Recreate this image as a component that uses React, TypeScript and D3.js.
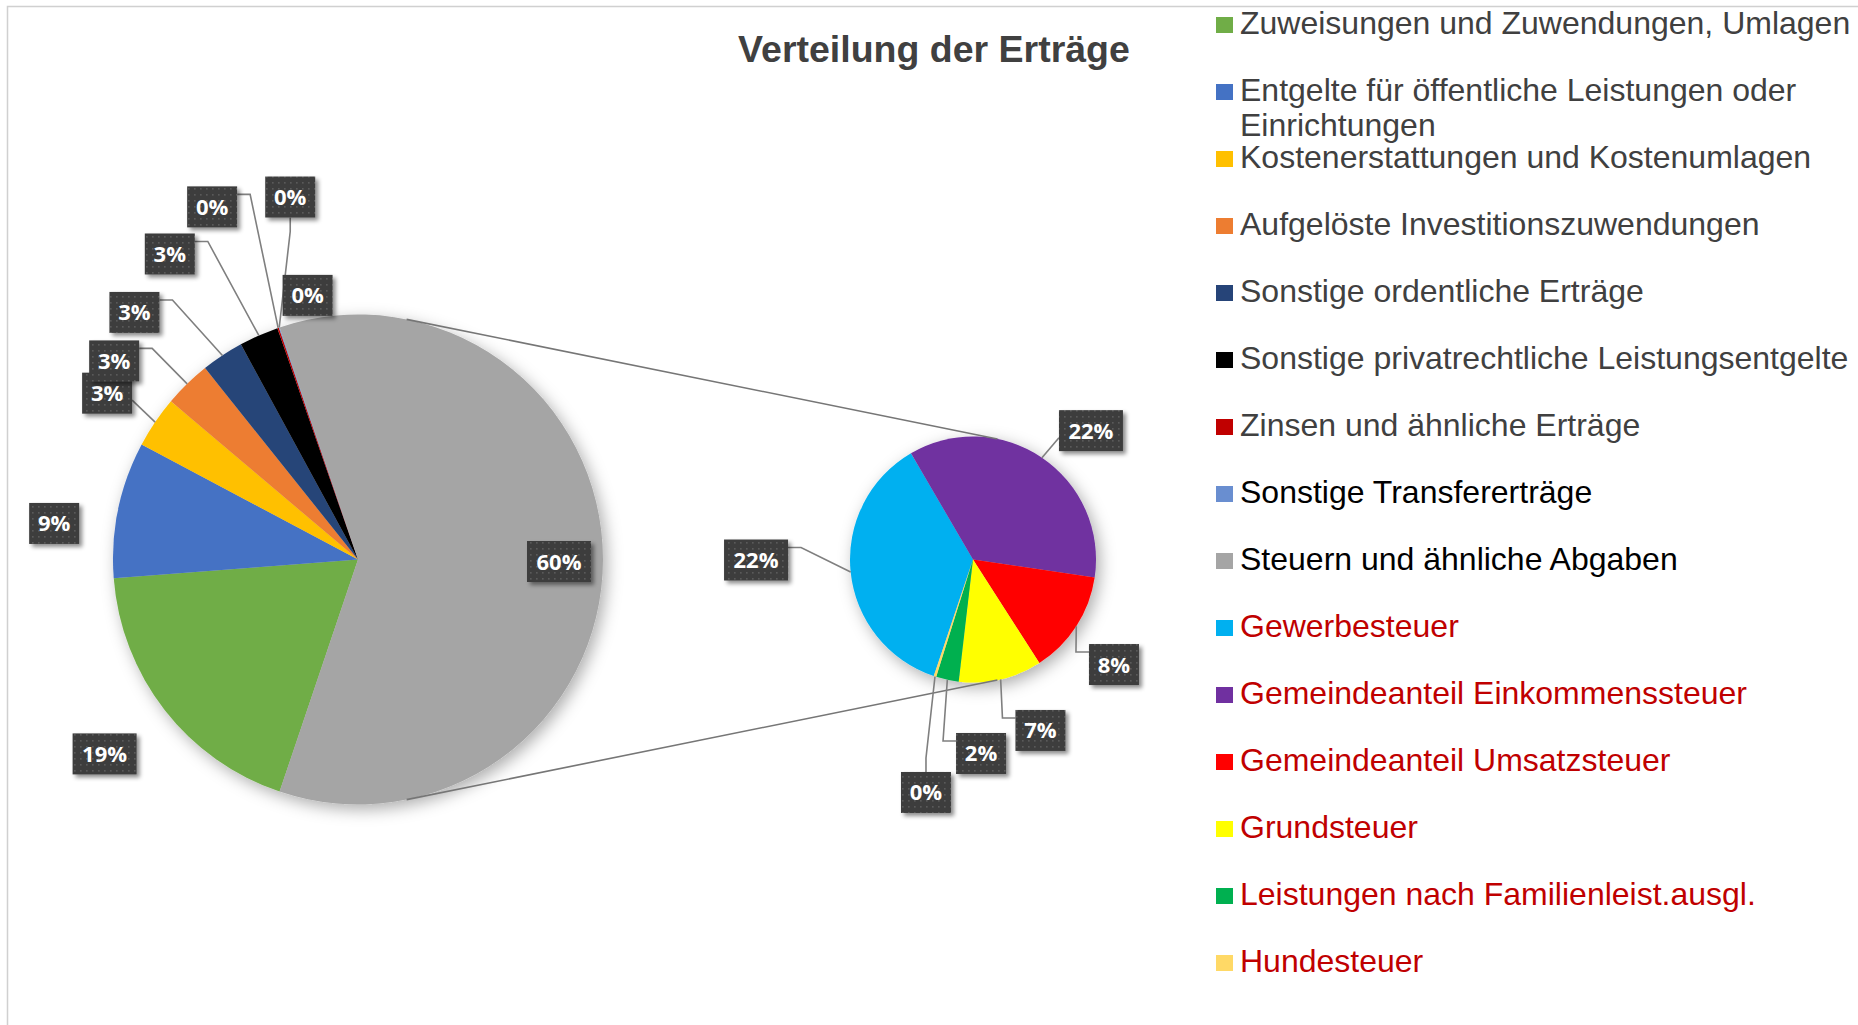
import React from 'react';
import * as d3 from 'd3';

// ---------- data ----------
const chartTitle = 'Verteilung der Erträge';

const mainCategories = [
  'Zuweisungen und Zuwendungen, Umlagen',
  'Entgelte für öffentliche Leistungen oder Einrichtungen',
  'Kostenerstattungen und Kostenumlagen',
  'Aufgelöste Investitionszuwendungen',
  'Sonstige ordentliche Erträge',
  'Sonstige privatrechtliche Leistungsentgelte',
  'Zinsen und ähnliche Erträge',
  'Sonstige Transfererträge',
  'Steuern und ähnliche Abgaben',
];
const mainValues = [18.6, 9.0, 3.4, 3.1, 2.8, 2.6, 0.1, 0.05, 0];
const mainColors = ['#70AD47', '#4472C4', '#FFC000', '#ED7D31', '#264478', '#000000', '#C00000', '#698ED0', '#A5A5A5'];
const mainTextColors = ['#404040', '#404040', '#404040', '#404040', '#404040', '#404040', '#404040', '#000000', '#000000'];

const subCategories = [
  'Gewerbesteuer',
  'Gemeindeanteil Einkommenssteuer',
  'Gemeindeanteil Umsatzsteuer',
  'Grundsteuer',
  'Leistungen nach Familienleist.ausgl.',
  'Hundesteuer',
];
const subValues = [22.0, 21.6, 8.2, 6.6, 1.8, 0.2];
const subColors = ['#00B0F0', '#7030A0', '#FF0000', '#FFFF00', '#00B050', '#FFD966'];
const subTextColor = '#C00000';

// ---------- layout ----------
const W = 1858;
const H = 1025;
const P1 = { x: 358, y: 559.5, r: 245 };
const P2 = { x: 973, y: 559.5, r: 123 };
const subStartDeg = 198.6;

// label offsets relative to slice anchor on the rim [dx, dy, leader]
const mainLabelLayout: [number, number, boolean][] = [
  [-60, 44, false],
  [-64, 14, false],
  [-48, -29, true],
  [-73, -23, true],
  [-88, -43, true],
  [-89, -81.5, true],
  [-66, -121, true],
  [11, -130.5, true],
  [28, -32, false],
  [-44, 2, false],
];
const subLabelLayout: [number, number, boolean][] = [
  [-94.6, -12, true],
  [49, -27, true],
  [37.7, 38.2, true],
  [39.8, 51.1, true],
  [33.7, 73.7, true],
  [-9, 116, true],
];

const legendX = 1216;
const legendTextX = 1240;
const legendY0 = 33.5;
const legendStep = 67;

type Lab = { cx: number; cy: number; text: string; leader: boolean; ax: number; ay: number };

function boxW(t: string) {
  return 14 * t.length + 22;
}
const BOX_H = 41;

function leaderPath(l: Lab) {
  const w = boxW(l.text);
  const x0 = l.cx - w / 2, x1 = l.cx + w / 2;
  const y0 = l.cy - BOX_H / 2, y1 = l.cy + BOX_H / 2;
  if (l.ax < x0 || l.ax > x1) {
    const ex = l.ax < x0 ? x0 : x1;
    const sx = l.ax < x0 ? ex - 13 : ex + 13;
    // attach near the top unless the anchor is close below the box
    const y = l.ay > y1 && Math.abs(l.ax - ex) < 30 ? l.cy + 7 : y0 + 8;
    if (l.ay > y1 && Math.abs(l.ax - ex) < 30) return `M${ex},${y}L${l.ax},${l.ay}`;
    return `M${ex},${y}L${sx},${y}L${l.ax},${l.ay}`;
  }
  const ey = l.ay < y0 ? y0 : y1;
  const sy = l.ay < y0 ? ey - 14 : ey + 14;
  return `M${l.cx},${ey}L${l.cx},${sy}L${l.ax},${l.ay}`;
}

export default function App() {
  const other = d3.sum(subValues);
  const total = d3.sum(mainValues) + other;
  const pct = (v: number) => `${Math.round((v / total) * 100)}%`;

  const mainData = [...mainValues, other];
  const mainFill = [...mainColors, mainColors[8]];
  const otherAngle = (other / total) * 2 * Math.PI;
  const s1 = Math.PI / 2 + otherAngle / 2;
  const pie1 = d3.pie<number>().sort(null).value((d) => d).startAngle(s1).endAngle(s1 + 2 * Math.PI)(mainData);

  const s2 = (subStartDeg * Math.PI) / 180;
  const pie2 = d3.pie<number>().sort(null).value((d) => d).startAngle(s2).endAngle(s2 + 2 * Math.PI)(subValues);

  const arc1 = d3.arc<d3.PieArcDatum<number>>().innerRadius(0).outerRadius(P1.r);
  const arc2 = d3.arc<d3.PieArcDatum<number>>().innerRadius(0).outerRadius(P2.r);

  const mkLabels = (arcs: d3.PieArcDatum<number>[], P: typeof P1, layout: [number, number, boolean][]): Lab[] =>
    arcs.map((a, i) => {
      const m = (a.startAngle + a.endAngle) / 2;
      const ax = P.x + P.r * Math.sin(m);
      const ay = P.y - P.r * Math.cos(m);
      const [dx, dy, leader] = layout[i];
      return { cx: ax + dx, cy: ay + dy, text: pct(a.data), leader, ax, ay };
    });

  const labels = [...mkLabels(pie1, P1, mainLabelLayout), ...mkLabels(pie2, P2, subLabelLayout)];

  // outer tangent series lines
  const d = P2.x - P1.x;
  const phi = Math.asin((P1.r - P2.r) / d);
  const tan = (sgn: number) => {
    const p1 = [P1.x + P1.r * Math.sin(phi), P1.y - sgn * P1.r * Math.cos(phi)];
    const p2 = [P2.x + P2.r * Math.sin(phi), P2.y - sgn * P2.r * Math.cos(phi)];
    return `M${p1[0]},${p1[1]}L${p2[0]},${p2[1]}`;
  };

  const legendItems = [
    ...mainCategories.map((c, i) => ({ label: c, color: mainColors[i], text: mainTextColors[i] })),
    ...subCategories.map((c, i) => ({ label: c, color: subColors[i], text: subTextColor })),
  ];

  return (
    <svg width={W} height={H} style={{ position: 'absolute', left: 0, top: 0 }} fontFamily="'Liberation Sans', Arial, sans-serif">
      <defs>
        <filter id="pieShadow" x="-30%" y="-30%" width="160%" height="160%">
          <feDropShadow dx="4" dy="5" stdDeviation="8" floodColor="#000" floodOpacity="0.32" />
        </filter>
        <filter id="boxShadow" x="-30%" y="-30%" width="160%" height="160%">
          <feDropShadow dx="3" dy="3" stdDeviation="2.2" floodColor="#000" floodOpacity="0.45" />
        </filter>
        <pattern id="dots" width="6" height="6" patternUnits="userSpaceOnUse">
          <rect width="6" height="6" fill="#3E3E3E" />
          <rect x="2" y="2" width="1.6" height="1.6" fill="#5A5A5A" />
        </pattern>
      </defs>
      <rect width={W} height={H} fill="#fff" />
      <path d={`M7.5,${H}L7.5,6.5L${W},6.5`} fill="none" stroke="#D0D0D0" strokeWidth={1.5} />

      <text x={934} y={62} textAnchor="middle" fontWeight="bold" fontSize={37.5} fill="#404040">
        {chartTitle}
      </text>

      <g filter="url(#pieShadow)" transform={`translate(${P1.x},${P1.y})`}>
        {pie1.map((a, i) => (
          <path key={i} d={arc1(a) || ''} fill={mainFill[i]} />
        ))}
      </g>
      <g filter="url(#pieShadow)" transform={`translate(${P2.x},${P2.y})`}>
        {pie2.map((a, i) => (
          <path key={i} d={arc2(a) || ''} fill={subColors[i]} />
        ))}
      </g>

      <path d={tan(1)} stroke="#767676" strokeWidth={1.6} fill="none" />
      <path d={tan(-1)} stroke="#767676" strokeWidth={1.6} fill="none" />

      {labels.filter((l) => l.leader).map((l, i) => (
        <path key={i} d={leaderPath(l)} stroke="#7F7F7F" strokeWidth={1.6} fill="none" />
      ))}

      {labels.map((l, i) => {
        const w = boxW(l.text);
        return (
          <g key={i}>
            <rect x={l.cx - w / 2} y={l.cy - BOX_H / 2} width={w} height={BOX_H} fill="url(#dots)" filter="url(#boxShadow)" />
            <text x={l.cx} y={l.cy + 8} textAnchor="middle" fontFamily="'Open Sans', sans-serif" fontWeight="bold" fontSize={22} fill="#fff">
              {l.text}
            </text>
          </g>
        );
      })}

      {legendItems.map((it, i) => {
        const y = legendY0 + legendStep * i;
        const wrap = it.label.startsWith('Entgelte');
        return (
          <g key={i}>
            <rect x={legendX} y={y - 16.5} width={17} height={16} fill={it.color} />
            <text x={legendTextX} y={y} fontSize={32} fill={it.text}>
              {wrap ? (
                <>
                  <tspan x={legendTextX}>Entgelte für öffentliche Leistungen oder</tspan>
                  <tspan x={legendTextX} dy={35.6}>Einrichtungen</tspan>
                </>
              ) : (
                it.label
              )}
            </text>
          </g>
        );
      })}
    </svg>
  );
}
